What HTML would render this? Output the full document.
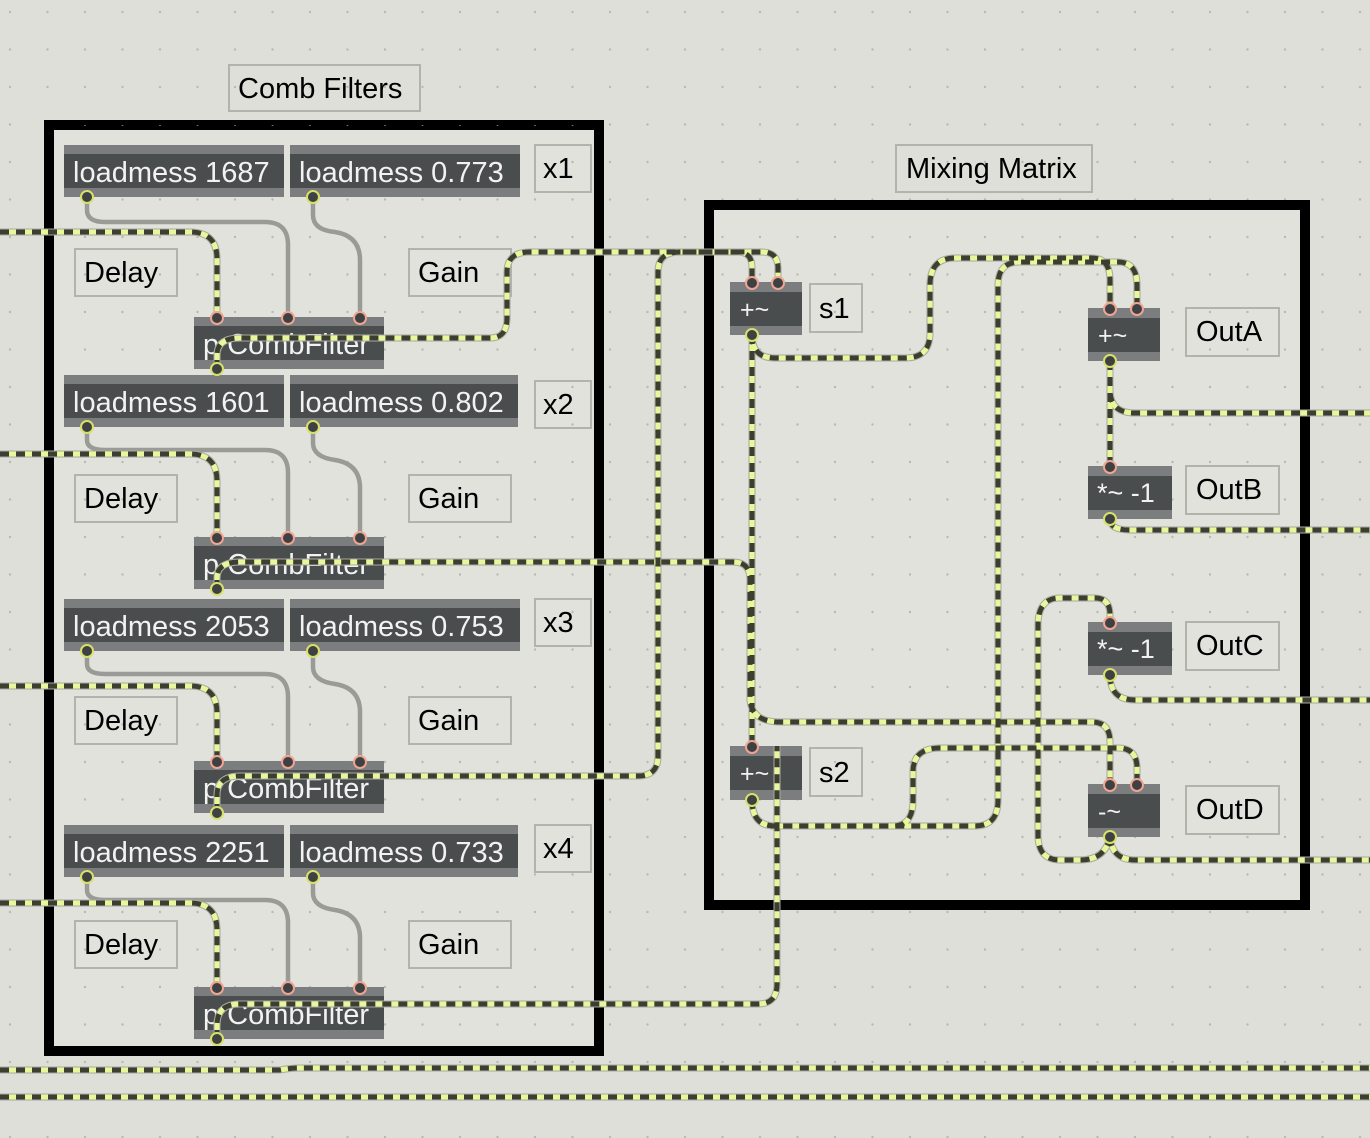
<!DOCTYPE html>
<html><head><meta charset="utf-8"><style>
html,body{margin:0;padding:0;background:#dfdfda}
svg{display:block}
text{font-family:"Liberation Sans",Arial,sans-serif}
.o{font-size:29px;fill:#f2f2f2}
.c{font-size:29px;fill:#000}
.cb{fill:none;stroke:#b3b3ae;stroke-width:2}
.wg{fill:none;stroke:#9a9a96;stroke-width:4.5}
.wy{fill:none;stroke:#e8f79a;stroke-width:5}
.wd{fill:none;stroke:#3b3f30;stroke-width:5;stroke-dasharray:9 7}
.wo{fill:none;stroke:#a8a8a4;stroke-width:7}
</style></head><body>
<svg width="1370" height="1138" viewBox="0 0 1370 1138" xmlns="http://www.w3.org/2000/svg">
<defs>
<pattern id="dots" width="37.5" height="37.5" patternUnits="userSpaceOnUse" x="8" y="10">
<circle cx="2" cy="2" r="1.2" fill="#b9b9b4"/></pattern>
<g id="in"><circle r="6" fill="#3e4142" stroke="#f0a492" stroke-width="2"/></g>
<g id="out"><circle r="6" fill="#3e4142" stroke="#d8df6a" stroke-width="2"/></g>
<g id="sig">
<path d="M0,232 H190 Q217,232 217,259 V317"/>
<path d="M0,454 H190 Q217,454 217,481 V537"/>
<path d="M0,686 H190 Q217,686 217,713 V761"/>
<path d="M0,903 H190 Q217,903 217,930 V987"/>
<path d="M217,369 V355 Q217,338 240,338 H490 Q507,338 507,318 V272 Q507,252 530,252 H738 Q752,252 752,268 V282"/>
<path d="M217,813 V795 Q217,776 240,776 H638 Q658,776 658,756 V272 Q658,252 680,252 H762 Q778,252 778,268 V282"/>
<path d="M217,589 V578 Q217,562 240,562 H733 Q750,562 750,580 V700 Q752,722 780,722 H1092 Q1110,722 1110,742 V784"/>
<path d="M752,335 V746"/>
<path d="M752,335 Q752,358 775,358 H905 Q930,358 930,333 V285 Q930,258 955,258 H1092 Q1110,258 1110,280 V308"/>
<path d="M217,1039 V1025 Q217,1004 240,1004 H758 Q777,1004 777,984 V746"/>
<path d="M752,800 Q752,826 775,826 H975 Q998,826 998,800 V285 Q998,262 1020,262 H1118 Q1137,262 1137,285 V308"/>
<path d="M752,800 Q752,826 775,826 H893 Q913,826 913,800 V772 Q913,748 940,748 H1118 Q1137,748 1137,768 V784"/>
<path d="M1110,361 V466"/>
<path d="M1110,361 V390 Q1110,413 1135,413 H1370"/>
<path d="M1110,519 Q1110,530 1130,530 H1370"/>
<path d="M1110,837 Q1105,860 1080,860 H1060 Q1038,860 1038,835 V625 Q1038,598 1060,598 H1095 Q1110,598 1110,615 V622"/>
<path d="M1110,675 Q1110,700 1135,700 H1370"/>
<path d="M1110,837 Q1112,860 1135,860 H1370"/>
<path d="M0,1070 H280 Q290,1068 300,1068 H1370"/>
<path d="M0,1097 H1370"/>
</g>
</defs>
<rect width="1370" height="1138" fill="#dfdfda"/>
<rect width="1370" height="1138" fill="url(#dots)"/>

<rect x="49" y="125" width="550" height="926" fill="#e2e2dd" stroke="#000" stroke-width="10"/>
<rect x="49" y="125" width="550" height="926" fill="url(#dots)"/>
<rect x="709" y="205" width="596" height="700" fill="#e2e2dd" stroke="#000" stroke-width="10"/>
<rect x="709" y="205" width="596" height="700" fill="url(#dots)"/>

<rect x="229" y="65" width="191" height="46" class="cb" fill="#dfdfda"/>
<text x="238" y="98" class="c">Comb Filters</text>
<rect x="896" y="145" width="196" height="47" class="cb" fill="#dfdfda"/>
<text x="906" y="178" class="c">Mixing Matrix</text>

<g>
<rect x="64" y="145" width="220" height="52" fill="#7b7d7f"/><rect x="64" y="154" width="220" height="34" fill="#4a4d4e"/>
<text x="73" y="182" class="o">loadmess 1687</text>
<rect x="290" y="145" width="230" height="52" fill="#7b7d7f"/><rect x="290" y="154" width="230" height="34" fill="#4a4d4e"/>
<text x="299" y="182" class="o">loadmess 0.773</text>
<rect x="535" y="145" width="56" height="47" class="cb"/><text x="543" y="178" class="c">x1</text>
<rect x="75" y="249" width="102" height="47" class="cb"/><text x="84" y="282" class="c">Delay</text>
<rect x="409" y="249" width="102" height="47" class="cb"/><text x="418" y="282" class="c">Gain</text>
<rect x="194" y="317" width="190" height="52" fill="#7b7d7f"/><rect x="194" y="326" width="190" height="34" fill="#4a4d4e"/>
<text x="203" y="354" class="o">p CombFilter</text>
</g>
<g>
<rect x="64" y="375" width="220" height="52" fill="#7b7d7f"/><rect x="64" y="384" width="220" height="34" fill="#4a4d4e"/>
<text x="73" y="412" class="o">loadmess 1601</text>
<rect x="290" y="375" width="228" height="52" fill="#7b7d7f"/><rect x="290" y="384" width="228" height="34" fill="#4a4d4e"/>
<text x="299" y="412" class="o">loadmess 0.802</text>
<rect x="535" y="381" width="56" height="47" class="cb"/><text x="543" y="414" class="c">x2</text>
<rect x="75" y="475" width="102" height="47" class="cb"/><text x="84" y="508" class="c">Delay</text>
<rect x="409" y="475" width="102" height="47" class="cb"/><text x="418" y="508" class="c">Gain</text>
<rect x="194" y="537" width="190" height="52" fill="#7b7d7f"/><rect x="194" y="546" width="190" height="34" fill="#4a4d4e"/>
<text x="203" y="574" class="o">p CombFilter</text>
</g>
<g>
<rect x="64" y="599" width="220" height="52" fill="#7b7d7f"/><rect x="64" y="608" width="220" height="34" fill="#4a4d4e"/>
<text x="73" y="636" class="o">loadmess 2053</text>
<rect x="290" y="599" width="230" height="52" fill="#7b7d7f"/><rect x="290" y="608" width="230" height="34" fill="#4a4d4e"/>
<text x="299" y="636" class="o">loadmess 0.753</text>
<rect x="535" y="599" width="56" height="47" class="cb"/><text x="543" y="632" class="c">x3</text>
<rect x="75" y="697" width="102" height="47" class="cb"/><text x="84" y="730" class="c">Delay</text>
<rect x="409" y="697" width="102" height="47" class="cb"/><text x="418" y="730" class="c">Gain</text>
<rect x="194" y="761" width="190" height="52" fill="#7b7d7f"/><rect x="194" y="770" width="190" height="34" fill="#4a4d4e"/>
<text x="203" y="798" class="o">p CombFilter</text>
</g>
<g>
<rect x="64" y="825" width="220" height="52" fill="#7b7d7f"/><rect x="64" y="834" width="220" height="34" fill="#4a4d4e"/>
<text x="73" y="862" class="o">loadmess 2251</text>
<rect x="290" y="825" width="228" height="52" fill="#7b7d7f"/><rect x="290" y="834" width="228" height="34" fill="#4a4d4e"/>
<text x="299" y="862" class="o">loadmess 0.733</text>
<rect x="535" y="825" width="56" height="47" class="cb"/><text x="543" y="858" class="c">x4</text>
<rect x="75" y="921" width="102" height="47" class="cb"/><text x="84" y="954" class="c">Delay</text>
<rect x="409" y="921" width="102" height="47" class="cb"/><text x="418" y="954" class="c">Gain</text>
<rect x="194" y="987" width="190" height="52" fill="#7b7d7f"/><rect x="194" y="996" width="190" height="34" fill="#4a4d4e"/>
<text x="203" y="1024" class="o">p CombFilter</text>
</g>

<rect x="730" y="282" width="72" height="53" fill="#7b7d7f"/><rect x="730" y="292" width="72" height="34" fill="#4a4d4e"/>
<text x="740" y="318" class="o" style="font-size:25px">+~</text>
<rect x="810" y="284" width="52" height="48" class="cb"/><text x="819" y="318" class="c">s1</text>
<rect x="1088" y="308" width="72" height="53" fill="#7b7d7f"/><rect x="1088" y="318" width="72" height="34" fill="#4a4d4e"/>
<text x="1098" y="344" class="o" style="font-size:25px">+~</text>
<rect x="1186" y="308" width="93" height="48" class="cb"/><text x="1196" y="341" class="c">OutA</text>
<rect x="1088" y="466" width="84" height="53" fill="#7b7d7f"/><rect x="1088" y="476" width="84" height="34" fill="#4a4d4e"/>
<text x="1097" y="502" class="o" style="font-size:27px">*~ -1</text>
<rect x="1186" y="466" width="93" height="48" class="cb"/><text x="1196" y="499" class="c">OutB</text>
<rect x="1088" y="622" width="84" height="53" fill="#7b7d7f"/><rect x="1088" y="632" width="84" height="34" fill="#4a4d4e"/>
<text x="1097" y="658" class="o" style="font-size:27px">*~ -1</text>
<rect x="1186" y="622" width="93" height="48" class="cb"/><text x="1196" y="655" class="c">OutC</text>
<rect x="730" y="746" width="72" height="54" fill="#7b7d7f"/><rect x="730" y="756" width="72" height="34" fill="#4a4d4e"/>
<text x="740" y="782" class="o" style="font-size:25px">+~</text>
<rect x="810" y="748" width="52" height="48" class="cb"/><text x="819" y="782" class="c">s2</text>
<rect x="1088" y="784" width="72" height="53" fill="#7b7d7f"/><rect x="1088" y="794" width="72" height="34" fill="#4a4d4e"/>
<text x="1098" y="820" class="o" style="font-size:25px">-~</text>
<rect x="1186" y="786" width="93" height="48" class="cb"/><text x="1196" y="819" class="c">OutD</text>

<g class="wg">
<path d="M87,197 V210 Q87,222 105,222 H265 Q288,222 288,245 V317"/>
<path d="M313,197 V215 Q313,230 335,232 Q360,236 360,260 V317"/>
<path d="M87,427 V440 Q87,450 105,450 H265 Q288,450 288,473 V537"/>
<path d="M313,427 V443 Q313,457 335,460 Q360,464 360,488 V537"/>
<path d="M87,651 V664 Q87,674 105,674 H265 Q288,674 288,697 V761"/>
<path d="M313,651 V667 Q313,681 335,684 Q360,688 360,712 V761"/>
<path d="M87,877 V890 Q87,900 105,900 H265 Q288,900 288,923 V987"/>
<path d="M313,877 V893 Q313,907 335,910 Q360,914 360,938 V987"/>
</g>

<use href="#sig" class="wo"/>
<use href="#sig" class="wy"/>
<use href="#sig" class="wd"/>

<use href="#out" x="87" y="197"/><use href="#out" x="313" y="197"/>
<use href="#out" x="87" y="427"/><use href="#out" x="313" y="427"/>
<use href="#out" x="87" y="651"/><use href="#out" x="313" y="651"/>
<use href="#out" x="87" y="877"/><use href="#out" x="313" y="877"/>
<use href="#in" x="217" y="318"/><use href="#in" x="288" y="318"/><use href="#in" x="360" y="318"/><use href="#out" x="217" y="369"/>
<use href="#in" x="217" y="538"/><use href="#in" x="288" y="538"/><use href="#in" x="360" y="538"/><use href="#out" x="217" y="589"/>
<use href="#in" x="217" y="762"/><use href="#in" x="288" y="762"/><use href="#in" x="360" y="762"/><use href="#out" x="217" y="813"/>
<use href="#in" x="217" y="988"/><use href="#in" x="288" y="988"/><use href="#in" x="360" y="988"/><use href="#out" x="217" y="1039"/>
<use href="#in" x="752" y="283"/><use href="#in" x="778" y="283"/><use href="#out" x="752" y="335"/>
<use href="#in" x="1110" y="309"/><use href="#in" x="1137" y="309"/><use href="#out" x="1110" y="361"/>
<use href="#in" x="1110" y="467"/><use href="#out" x="1110" y="519"/>
<use href="#in" x="1110" y="623"/><use href="#out" x="1110" y="675"/>
<use href="#in" x="752" y="747"/><use href="#out" x="752" y="800"/>
<use href="#in" x="1110" y="785"/><use href="#in" x="1137" y="785"/><use href="#out" x="1110" y="837"/>
</svg>
</body></html>
